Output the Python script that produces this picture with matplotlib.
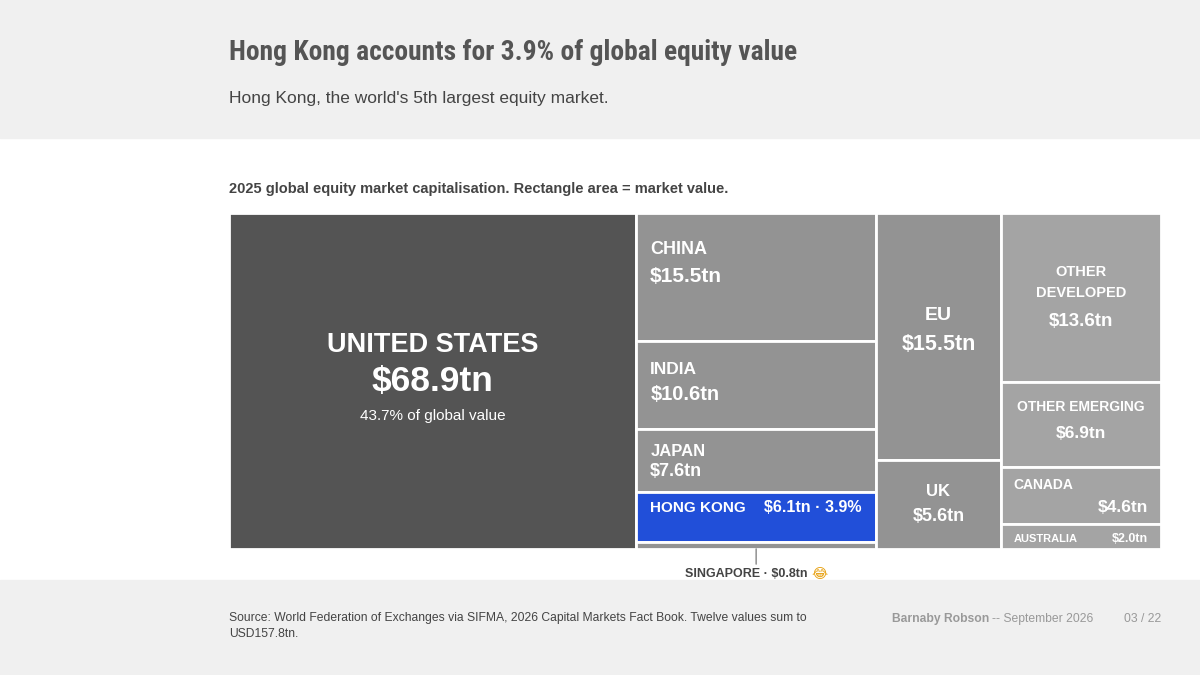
import matplotlib
matplotlib.use("Agg")
from matplotlib import pyplot as plt
from matplotlib.patches import Rectangle

# 2025 equity market capitalisation, USD trillions
markets = ["United States", "China", "India", "Japan", "Hong Kong", "Singapore",
           "EU", "UK", "Other developed", "Other emerging", "Canada", "Australia"]
values = [68.9, 15.5, 10.6, 7.6, 6.1, 0.8, 15.5, 5.6, 13.6, 6.9, 4.6, 2.0]
columns = [0, 1, 1, 1, 1, 1, 2, 2, 3, 3, 3, 3]
stated_total = 157.8

DPI = 100
W, H = 1200, 675
plt.rcParams['font.family'] = ['Liberation Sans', 'DejaVu Sans']


def pt(px):
    return px * 72 / DPI


fig = plt.figure(figsize=(W / DPI, H / DPI), dpi=DPI)
fig.patch.set_facecolor('white')
fig.patches.append(Rectangle((0, 1 - 138 / H), 1, 138 / H, transform=fig.transFigure,
                             color='#f0f0f0', zorder=0))
fig.patches.append(Rectangle((0, 0), 1, 95 / H, transform=fig.transFigure,
                             color='#f0f0f0', zorder=0))

# treemap area
left, top, right, bottom = 229, 213, 1161, 549
ax = fig.add_axes([left / W, 1 - bottom / H, (right - left) / W, (bottom - top) / H])
ax.set_axis_off()

total = sum(values)
col_sums = {}
for c, v in zip(columns, values):
    col_sums[c] = col_sums.get(c, 0) + v

rects = []
x0 = 0
y_used = {}
for c in sorted(col_sums):
    for i, (cc, v) in enumerate(zip(columns, values)):
        if cc != c:
            continue
        y0 = y_used.get(c, 0)
        h = v / col_sums[c]
        rects.append((i, x0, y0, col_sums[c], h))
        y_used[c] = y0 + h
    x0 += col_sums[c]
rects.sort()
ax.set_xlim(0, total)
ax.set_ylim(1, 0)

col_colors = {0: '#545454', 1: '#939393', 2: '#939393', 3: '#a4a4a4'}
for i, x, y, w, h in rects:
    color = col_colors[columns[i]]
    if markets[i] == "Hong Kong":
        color = '#214fd9'
    ax.add_patch(Rectangle((x, y), w, h, facecolor=color, edgecolor='white', linewidth=2))


def label(i, text, anchor, dx, dy, size, ha='left', weight='bold', color='white'):
    _, x, y, w, h = rects[i]
    ax_x = {'l': x, 'c': x + w / 2, 'r': x + w}[anchor[1]]
    ax_y = {'t': y, 'c': y + h / 2, 'b': y + h}[anchor[0]]
    ax.annotate(text, xy=(ax_x, ax_y), xytext=(pt(dx), -pt(dy)), textcoords='offset points',
                ha=ha, va='center', fontsize=size, fontweight=weight, color=color)


def tn(i):
    return f"${values[i]:.1f}tn"


# United States
label(0, "UNITED STATES", 'cc', 0, -36, 19.5, ha='center')
label(0, tn(0), 'cc', 0, 1, 25.5, ha='center')
label(0, f"{values[0] / total * 100:.1f}% of global value", 'cc', 0, 35, 11,
      ha='center', weight='normal')
# China, India, Japan
label(1, "CHINA", 'tl', 14, 37, 13)
label(1, tn(1), 'tl', 14, 63, 15)
label(2, "INDIA", 'tl', 14, 28, 12.5)
label(2, tn(2), 'tl', 14, 53, 14.5)
label(3, "JAPAN", 'tl', 14, 22, 12)
label(3, tn(3), 'tl', 14, 43, 13)
# Hong Kong
label(4, "HONG KONG", 'tl', 14, 16, 11)
label(4, f"{tn(4)} · {values[4] / total * 100:.1f}%", 'tr', -15, 16, 11.5, ha='right')
# EU, UK
label(6, "EU", 'tc', 0, 102, 14, ha='center')
label(6, tn(6), 'tc', 0, 131, 15.5, ha='center')
label(7, "UK", 'cc', 0, -13, 12, ha='center')
label(7, tn(7), 'cc', 0, 12, 13, ha='center')
# others
label(8, "OTHER", 'tc', 0, 59, 10.5, ha='center')
label(8, "DEVELOPED", 'tc', 0, 80, 10.5, ha='center')
label(8, tn(8), 'tc', 0, 109, 13.5, ha='center')
label(9, "OTHER EMERGING", 'tc', 0, 25, 10, ha='center')
label(9, tn(9), 'tc', 0, 52, 12.5, ha='center')
label(10, "CANADA", 'tl', 13, 18, 10)
label(10, tn(10), 'tr', -13, 40, 12.5, ha='right')
label(11, "AUSTRALIA", 'cl', 13, 2, 8)
label(11, tn(11), 'cr', -13, 2, 9, ha='right')

# Singapore callout
_, sx, sy, sw, sh = rects[5]
ax.annotate('', xy=(sx + sw / 2, sy + sh), xytext=(0, -pt(15)), textcoords='offset points',
            arrowprops=dict(arrowstyle='-', color='#999999', lw=1.2, shrinkA=0, shrinkB=0))
sg = ax.annotate(f"SINGAPORE · {tn(5)}", xy=(sx + sw / 2, sy + sh), xytext=(-pt(10), -pt(25)),
                 textcoords='offset points', ha='center', va='center', fontsize=9,
                 fontweight='bold', color='#444444', annotation_clip=False)

# titles
title = fig.text(229 / W, 1 - 53 / H, "Hong Kong accounts for 3.9% of global equity value",
                 ha='left', va='center', fontsize=25, fontweight='bold', color='#555555',
                 family=['Liberation Sans Narrow', 'Roboto Condensed', 'Liberation Sans'],
                 fontstretch='condensed')
fig.text(229 / W, 1 - 98 / H, "Hong Kong, the world's 5th largest equity market.",
         ha='left', va='center', fontsize=12.5, color='#444444')
fig.text(229 / W, 1 - 189 / H, "2025 global equity market capitalisation. Rectangle area = market value.",
         ha='left', va='center', fontsize=10.5, fontweight='bold', color='#444444')

# footer
fig.text(229 / W, 1 - 626 / H,
         "Source: World Federation of Exchanges via SIFMA, 2026 Capital Markets Fact Book. Twelve values sum to\n"
         f"USD{stated_total}tn.",
         ha='left', va='center', fontsize=8.7, color='#444444', linespacing=1.35)
author = fig.text(892 / W, 1 - 619 / H, "Barnaby Robson", ha='left', va='center',
                  fontsize=8.7, fontweight='bold', color='#999999')
fig.text(1161 / W, 1 - 619 / H, "03 / 22", ha='right', va='center', fontsize=8.7, color='#999999')

# fit title width, place the date after the author name and the emoji after Singapore
fig.canvas.draw()
r = fig.canvas.get_renderer()
tw = title.get_window_extent(r).width
title.set_fontsize(25 * 568 / tw)
a_ext = author.get_window_extent(r)
fig.text((a_ext.x1 + 3) / W, 1 - 619 / H, "-- September 2026", ha='left', va='center',
         fontsize=8.7, color='#999999')
s_ext = sg.get_window_extent(r)
fig.text((s_ext.x1 + 4) / W, (s_ext.y0 + s_ext.y1) / 2 / H, "\U0001F602", ha='left', va='center',
         fontsize=10, color='#e8a317', family=['DejaVu Sans'])

fig.savefig("out.png", dpi=DPI)
